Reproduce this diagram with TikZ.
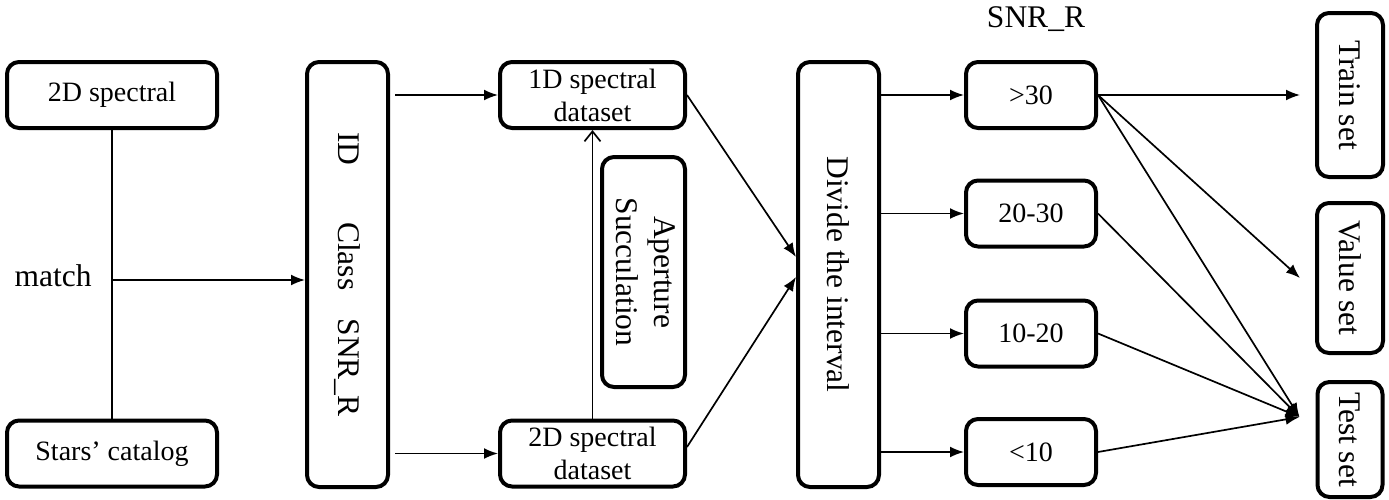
\documentclass[tikz,border=0pt]{standalone}
\usepackage{fontspec}
\usepackage{graphicx}
\setmainfont{Liberation Serif}
\usetikzlibrary{arrows.meta}

\newcommand{\sidetext}[1]{\rotatebox{-90}{#1}}

\tikzset{
  box/.style={draw, line width=2pt, rounded corners=6pt, inner sep=0pt,
    align=center, font=\fontsize{14}{16.5}\selectfont},
  vbox/.style={box, font=\fontsize{15.75}{19}\selectfont},
  label/.style={font=\fontsize{15.75}{19}\selectfont},
  link/.style={line width=0.85pt},
  arr/.style={link, -{Latex[length=7pt,width=5.5pt]}},
  barb/.style={link, -{Straight Barb[length=5pt,width=8pt]}}
}

\begin{document}
\begin{tikzpicture}[x=0.5pt, y=-0.5pt]
\useasboundingbox (0,0) rectangle (1389,499);

% sources and the matched table
\node[box, minimum width=105pt, minimum height=33pt] (spec) at (112,95) {2D spectral};
\node[box, minimum width=105pt, minimum height=33pt] (stars) at (112,453.5) {Stars’ catalog};
\node[label] (match) at (53,276) {match};
\coordinate (junc) at (112,280);
\draw[link] (spec) -- (stars);
\node[vbox, minimum width=40.5pt, minimum height=212.5pt] (fields) at (347.5,274.5)
  {\sidetext{ID\hspace{1.8em}Class\hspace{0.9em}SNR\_R}};
\draw[arr] (junc) -- (junc -| fields.west);

% datasets
\node[box, minimum width=92.5pt, minimum height=33pt] (d1) at (592.5,95) {1D spectral\\dataset};
\node[box, minimum width=92.5pt, minimum height=33pt] (d2) at (592.5,453.5) {2D spectral\\dataset};
\node[vbox, minimum width=41.5pt, minimum height=115pt] (aper) at (643.5,272)
  {\sidetext{\begin{tabular}{@{}c@{}}Aperture\\Succulation\end{tabular}}};
\draw[arr, shorten <=2.5pt] (fields.east |- d1) -- (d1.west);
\draw[arr, shorten <=2.5pt] (fields.east |- d2) -- (d2.west);
\draw[barb] (d2) -- (d1);

% interval split
\node[vbox, minimum width=40.5pt, minimum height=212.5pt] (divide) at (838.5,274.5)
  {\sidetext{Divide the interval}};
\draw[arr] (d1.east) -- ([yshift=8.75pt]divide.west);
\draw[arr] ([yshift=3.25pt]d2.east) -- ([yshift=-1.25pt]divide.west);
\node[label] (snr) at (1036,19) {SNR\_R};
\foreach \n/\lab/\y in {gt30/{>30}/95, r2030/20-30/213.5, r1020/10-20/333.5, lt10/{<10}/452}{
  \node[box, minimum width=65pt, minimum height=33pt] (\n) at (1031,\y) {\lab};
  \draw[arr] (divide.east |- \n) -- (\n.west);
}

% output sets
\node[vbox, minimum width=33pt, minimum height=82pt] (train) at (1350,95) {\sidetext{Train set}};
\node[vbox, minimum width=33pt, minimum height=75pt] (value) at (1350,278) {\sidetext{Value set}};
\node[vbox, minimum width=32.5pt, minimum height=57.5pt] (test) at (1350,439.5) {\sidetext{Test set}};
\coordinate (trainin) at ([xshift=-7.5pt]train.west);
\coordinate (valuein) at ([xshift=-7.5pt]value.west);
\coordinate (testin) at ([xshift=-8pt,yshift=11.25pt]test.west);
\draw[arr] (gt30.east) -- (trainin);
\draw[arr] (gt30.east) -- (valuein);
\foreach \n in {gt30,r2030,r1020,lt10}
  \draw[arr] (\n.east) -- (testin);
\end{tikzpicture}
\end{document}
